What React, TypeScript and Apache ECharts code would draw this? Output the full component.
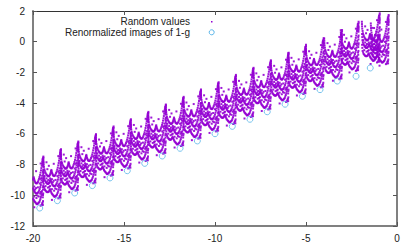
import React, { useEffect, useRef } from "react";
import * as echarts from "echarts";

// Renormalized images of 1-g
const circleX = [-19.63, -18.66, -17.71, -16.74, -15.77, -14.82, -13.86, -12.9, -11.92, -10.97, -10.0, -9.05, -8.08, -7.13, -6.15, -5.2, -4.23, -3.28, -2.25, -1.47];
const circleY = [-10.83, -10.35, -9.85, -9.37, -8.87, -8.4, -7.92, -7.44, -6.94, -6.46, -5.99, -5.51, -5.05, -4.56, -4.07, -3.55, -3.12, -2.56, -2.25, -1.71];

// Base of each cusp of the random-value band
const cuspX = [-19.63, -18.66, -17.71, -16.74, -15.77, -14.82, -13.86, -12.9, -11.92, -10.97, -10.0, -9.05, -8.08, -7.13, -6.15, -5.2, -4.23, -3.22, -2.31, -1.15, -0.66];
const cuspY = [-10.83, -10.35, -9.85, -9.37, -8.87, -8.4, -7.92, -7.44, -6.94, -6.46, -5.99, -5.51, -5.05, -4.56, -4.07, -3.55, -3.12, -2.59, -2.05, -1.5, -1.61];

// One period of the random-value cloud, offsets from the cusp base
const upperLine: [number, number][] = [
  [-0.78, 2.8], [-0.775, 2.65], [-0.77, 2.5], [-0.76, 2.35], [-0.74, 2.2], [-0.72, 2.05], [-0.695, 1.95], [-0.67, 1.85], [-0.635, 1.77], [-0.6, 1.7],
  [-0.565, 1.65], [-0.53, 1.6], [-0.495, 1.59], [-0.46, 1.6], [-0.43, 1.64], [-0.4, 1.7], [-0.38, 1.77], [-0.36, 1.85], [-0.345, 1.93], [-0.33, 2.0],
  [-0.31, 1.9], [-0.29, 1.8], [-0.265, 1.72], [-0.24, 1.65], [-0.205, 1.62], [-0.17, 1.6], [-0.135, 1.64], [-0.1, 1.7], [-0.07, 1.8], [-0.04, 1.9],
  [-0.01, 2.02], [0.02, 2.15], [0.045, 2.3], [0.07, 2.45], [0.09, 2.6], [0.11, 2.75], [0.125, 2.88], [0.14, 3.0], [0.15, 3.1], [0.16, 3.2],
];
const middleLine: [number, number][] = [
  [-0.77, 2.0], [-0.76, 1.8], [-0.75, 1.6], [-0.725, 1.47], [-0.7, 1.35], [-0.665, 1.27], [-0.63, 1.2], [-0.595, 1.15], [-0.56, 1.1], [-0.525, 1.09],
  [-0.49, 1.1], [-0.46, 1.15], [-0.43, 1.2], [-0.405, 1.28], [-0.38, 1.35], [-0.36, 1.28], [-0.34, 1.2], [-0.31, 1.12], [-0.28, 1.05], [-0.245, 1.0],
  [-0.21, 0.95], [-0.175, 0.94], [-0.14, 0.95], [-0.105, 0.99], [-0.07, 1.05], [-0.035, 1.14], [0.0, 1.25], [0.03, 1.37], [0.06, 1.5], [0.08, 1.65],
  [0.1, 1.8], [0.115, 1.95], [0.13, 2.1],
];
const lowerLine: [number, number][] = [
  [-0.77, 1.3], [-0.755, 1.1], [-0.74, 0.9], [-0.71, 0.8], [-0.68, 0.7], [-0.645, 0.65], [-0.61, 0.6], [-0.575, 0.57], [-0.54, 0.55], [-0.505, 0.57],
  [-0.47, 0.6], [-0.44, 0.67], [-0.41, 0.75], [-0.385, 0.67], [-0.36, 0.6], [-0.33, 0.52], [-0.3, 0.45], [-0.265, 0.4], [-0.23, 0.35], [-0.195, 0.3],
  [-0.16, 0.25], [-0.125, 0.27], [-0.09, 0.3], [-0.055, 0.35], [-0.02, 0.4], [0.01, 0.5], [0.04, 0.6], [0.065, 0.72], [0.09, 0.85], [0.105, 0.97],
  [0.12, 1.1], [0.05, 0.15], [0.1, 0.2], [0.13, 0.3],
];
const spikeColumn: [number, number][] = [
  [0.17, 0.2], [0.18, 0.45], [0.17, 0.7], [0.19, 0.95], [0.18, 1.2], [0.19, 1.45], [0.18, 1.7], [0.2, 1.95],
  [0.19, 2.2], [0.2, 2.45], [0.19, 2.7], [0.2, 2.9], [0.19, 3.1], [0.2, 3.25], [0.2, 3.35],
  [0.16, 0.35], [0.18, 0.85], [0.17, 1.35], [0.19, 1.85], [0.18, 2.35], [0.19, 2.8], [0.2, 3.0],
];
const fillDots: [number, number][] = [
  [-0.6, 1.45], [-0.5, 1.35], [-0.4, 1.45], [-0.3, 1.4], [-0.2, 1.3], [-0.1, 1.35], [0.0, 1.6], [0.05, 1.9],
  [-0.65, 0.95], [-0.52, 0.85], [-0.4, 0.95], [-0.3, 0.75], [-0.18, 0.65], [-0.05, 0.75], [0.06, 1.05],
  [-0.7, 1.6], [-0.55, 1.25], [-0.45, 0.9], [-0.25, 1.2], [-0.12, 0.8], [0.02, 0.95],
];
const strayDots: [number, number][] = [
  [-0.47, 2.27], [-0.2, 2.4], [-0.6, 2.5], [0.05, 2.9], [-0.3, 0.05], [-0.55, 2.05],
];

const FONT = "'Liberation Sans', Arial, sans-serif";
const PURPLE = "#9400D3";
const SKY = "#56B4E9";

function randomValues(): [number, number][] {
  const shape = [...upperLine, ...middleLine, ...lowerLine, ...spikeColumn, ...fillDots, ...strayDots];
  const pts: [number, number][] = [];
  for (let i = 0; i < cuspX.length; i++) {
    for (const [dx, dy] of shape) {
      const x = cuspX[i] + dx;
      if (x < -20 || x > 0) continue;
      pts.push([x, cuspY[i] + dy]);
    }
  }
  return pts;
}

export default function App() {
  const ref = useRef<HTMLDivElement>(null);
  useEffect(() => {
    document.body.style.margin = "0";
    const chart = echarts.init(ref.current!, null, { renderer: "svg" });
    const circles = circleX.map((x, i) => [x, circleY[i]]);
    const tickStyle = { color: "#555", width: 1 };
    chart.setOption({
      animation: false,
      backgroundColor: "#fff",
      grid: { left: 33, right: 18, top: 11, bottom: 23, containLabel: false },
      xAxis: [
        {
          type: "value", min: -20, max: 0, interval: 5, position: "bottom",
          axisLine: { onZero: false, lineStyle: { color: "#808080", width: 2 } },
          axisTick: { inside: true, length: 4, lineStyle: tickStyle },
          axisLabel: { color: "#222", fontSize: 10, fontFamily: FONT, margin: 7 },
          splitLine: { show: false },
        },
        {
          type: "value", min: -20, max: 0, interval: 5, position: "top",
          axisLine: { onZero: false, lineStyle: { color: "#333", width: 1 } },
          axisTick: { inside: true, length: 4, lineStyle: tickStyle },
          axisLabel: { show: false },
          splitLine: { show: false },
        },
      ],
      yAxis: [
        {
          type: "value", min: -12, max: 2, interval: 2, position: "left",
          axisLine: { show: true, onZero: false, lineStyle: { color: "#808080", width: 2 } },
          axisTick: { show: true, inside: true, length: 4, lineStyle: tickStyle },
          axisLabel: { color: "#222", fontSize: 10, fontFamily: FONT, margin: 8 },
          splitLine: { show: false },
        },
        {
          type: "value", min: -12, max: 2, interval: 2, position: "right",
          axisLine: { show: true, onZero: false, lineStyle: { color: "#808080", width: 2 } },
          axisTick: { show: true, inside: true, length: 4, lineStyle: tickStyle },
          axisLabel: { show: false },
          splitLine: { show: false },
        },
      ],
      series: [
        {
          name: "Random values", type: "scatter", data: randomValues(),
          symbol: "rect", symbolSize: 2, itemStyle: { color: PURPLE, opacity: 0.9 }, silent: true,
        },
        {
          name: "Renormalized images of 1-g", type: "scatter", data: circles,
          symbol: "circle", symbolSize: 6,
          itemStyle: { color: "rgba(0,0,0,0)", borderColor: SKY, borderWidth: 1 }, silent: true,
        },
      ],
      graphic: [
        { type: "text", x: 190, y: 21.5, style: { text: "Random values", textAlign: "right", textVerticalAlign: "middle", fontSize: 10, fontFamily: FONT, fill: "#222" } },
        { type: "text", x: 190, y: 32.5, style: { text: "Renormalized images of 1-g", textAlign: "right", textVerticalAlign: "middle", fontSize: 10, fontFamily: FONT, fill: "#222" } },
        { type: "rect", shape: { x: 211, y: 21, width: 1.5, height: 1.5 }, style: { fill: PURPLE } },
        { type: "circle", shape: { cx: 211.7, cy: 32.3, r: 2.5 }, style: { fill: "none", stroke: SKY, lineWidth: 1 } },
      ],
    });
    return () => chart.dispose();
  }, []);
  return <div ref={ref} style={{ position: "absolute", left: 0, top: 0, width: 415, height: 249 }} />;
}
